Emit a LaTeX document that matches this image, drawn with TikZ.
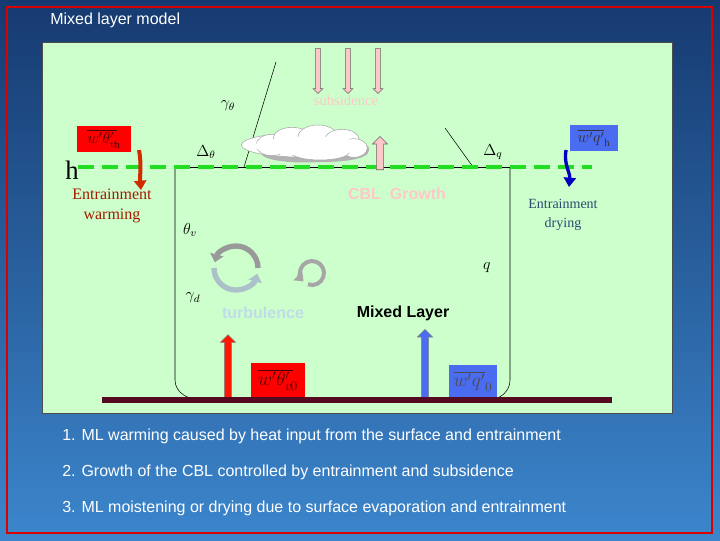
\documentclass[tikz,border=0pt]{standalone}
\usepackage{fontspec}
\setmainfont{Liberation Serif}
\setsansfont{Liberation Sans}
\usetikzlibrary{shapes.arrows,arrows.meta}
\definecolor{panel}{HTML}{CCFFCC}
\definecolor{pinkA}{HTML}{FFC8C8}
\definecolor{dashg}{HTML}{22DD22}
\definecolor{bgtop}{HTML}{163A70}
\definecolor{bgbot}{HTML}{3C86CC}
\definecolor{ground}{HTML}{550A22}
\definecolor{warmc}{HTML}{CC2200}
\definecolor{dryc}{HTML}{2A4A70}
\definecolor{fluxblue}{HTML}{4A6CF0}
\definecolor{turbc}{HTML}{BFDCE8}
\begin{document}
\begin{tikzpicture}[x=0.75pt,y=-0.75pt,
  up/.style={single arrow,draw=black!60,thin,minimum height=#1,single arrow head extend=3pt,inner sep=2.5pt,rotate=90,anchor=tail},
  down/.style={single arrow,draw=black!60,thin,minimum height=#1,single arrow head extend=2pt,inner sep=1.6pt,rotate=-90,anchor=tail},
  lab/.style={inner sep=0pt},
  puff/.style={fill=white,draw=gray!70,thin}]
\useasboundingbox (0,0) rectangle (720,540);
\shade[top color=bgtop,bottom color=bgbot] (0,0) rectangle (720,540);
\draw[red!85!black,line width=1.5pt] (7,7) rectangle (712,533);
\node[lab,anchor=west,text=white,font=\sffamily\fontsize{12}{14}\selectfont] (title) at (50,20) {Mixed layer model};
\draw[fill=panel,draw=black!70] (42,42) rectangle (672,413);
% subsidence
\foreach \xx/\nm in {318/s1,348/s2,378/s3}
  \node[down=34pt,fill=pinkA] (\nm) at (\xx,48) {};
\node[lab,text=pinkA,font=\fontsize{11}{13}\selectfont] (subs) at (346,100) {subsidence};
% lapse lines
\draw[thin] (276,62) -- (244,167);
\draw[thin] (445,128) -- (473,167);
\node[lab,font=\large] (gth) at (228,106) {$\gamma_\theta$};
\node[lab,font=\large] (dth) at (206,152) {$\Delta_\theta$};
\node[lab,font=\large] (dq) at (493,152) {$\Delta_q$};
% box
\draw[thin] (175,167) -- (510,167);
\draw[thin] (175,167) -- (175,380) to[out=-90,in=180] (202,400);
\draw[thin] (510,167) -- (510,380) to[out=-90,in=0] (488,400);
\draw[dashg,line width=2.5pt,dash pattern=on 12pt off 6pt] (78,167) -- (592,167);
\node[lab,font=\fontsize{20}{22}\selectfont] (h) at (72,170) {h};
% cloud
\fill[gray!60] (262,150) .. controls (255,160) and (290,164) .. (320,162) .. controls (350,162) and (375,158) .. (368,146) -- (330,140) -- cycle;
\begin{scope}
\filldraw[puff] (300,145) ellipse (44pt and 9pt);
\filldraw[puff] (272,145) ellipse (12pt and 8pt);
\filldraw[puff] (292,138) ellipse (14pt and 8pt);
\filldraw[puff] (318,137) ellipse (15pt and 9pt);
\filldraw[puff] (342,140) ellipse (13pt and 8pt);
\filldraw[puff] (354,148) ellipse (10pt and 7pt);
\filldraw[puff] (320,152) ellipse (22pt and 6pt);
\fill[white] (310,146) ellipse (42pt and 7pt);
\end{scope}
% CBL growth
\node[up=25pt,fill=pinkA] (grow) at (380,170) {};
\node[lab,text=pinkA,font=\sffamily\bfseries\fontsize{12}{14}\selectfont] (cbl) at (397,194) {CBL\ \ Growth};
% entrainment fluxes
\node[fill=red,minimum width=40pt,minimum height=19pt,inner sep=0pt] (fth) at (104,139) {};
\node[lab,text=red!30!black,font=\large] at (fth) {$\overline{w'\theta'_v}_{\!\mathrm{h}}$};
\draw[warmc!90!orange,line width=3pt,-{Triangle[length=7pt,width=9pt]}] (139,150) to[out=-80,in=95] (141,190);
\node[fill=fluxblue,minimum width=36pt,minimum height=19pt,inner sep=0pt] (fq) at (594,138) {};
\node[lab,text=black!80,font=\large] at (fq) {$\overline{w'q'}_{\mathrm{h}}$};
\draw[blue!75!black,line width=2.5pt,-{Triangle[length=7pt,width=9pt]}] (566,150) to[out=-100,in=85] (569,187);
\node[lab,text=warmc!80!black,align=center,font=\fontsize{12}{15}\selectfont] (ew) at (112,206) {Entrainment\\warming};
\node[lab,text=dryc,align=center,font=\fontsize{10.5}{14}\selectfont] (ed) at (563,215) {Entrainment\\drying};
% symbols
\node[lab,font=\large] (thv) at (190,230) {$\theta_v$};
\node[lab,font=\large] (gd) at (193,298) {$\gamma_d$};
\node[lab,font=\large] (q) at (487,268) {$q$};
% turbulence
\draw[gray!80,line width=4pt,-{Triangle[length=6pt,width=10pt]}] (258,268) arc (0:-165:22);
\draw[turbc!70!gray,line width=4pt,-{Triangle[length=6pt,width=10pt]}] (214,268) arc (180:15:22);
\draw[gray!70,line width=3pt,-{Triangle[length=6pt,width=9pt]}] (307.9,284.3) arc (110:-225:12);
\node[lab,text=turbc,font=\sffamily\bfseries\fontsize{12}{14}\selectfont] (turb) at (263,313) {turbulence};
\node[lab,font=\sffamily\bfseries\fontsize{12}{14}\selectfont] (ml) at (403,313) {Mixed Layer};
% surface fluxes
\node[up=48pt,fill=red!80!orange,draw=black!50] (uw) at (228,399) {};
\node[up=52pt,fill=fluxblue,draw=black!50] (uq) at (425,399) {};
\node[fill=red,minimum width=40pt,minimum height=25pt,inner sep=0pt] (f0) at (278,380) {};
\node[lab,text=red!30!black,font=\Large] at (f0) {$\overline{w'\theta'_v}_{\!0}$};
\node[fill=fluxblue,minimum width=36pt,minimum height=24pt,inner sep=0pt] (q0) at (473,381) {};
\node[lab,text=black!70,font=\Large] at (q0) {$\overline{w'q'}_{0}$};
\fill[ground] (102,397) rectangle (612,403);
% bottom texts
\begin{scope}[every node/.style={lab,anchor=west,text=white,font=\sffamily\fontsize{12}{14}\selectfont}]
\node (t1) at (62,436) {1. ML warming caused by heat input from the surface and entrainment};
\node (t2) at (62,472) {2. Growth of the CBL controlled by entrainment and subsidence};
\node (t3) at (62,508) {3. ML moistening or drying due to surface evaporation and entrainment};
\end{scope}
\end{tikzpicture}
\end{document}
